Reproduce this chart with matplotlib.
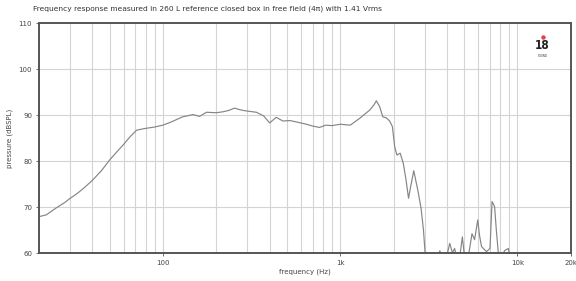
import matplotlib
matplotlib.use('Agg')
import matplotlib.pyplot as plt
from matplotlib.ticker import FixedLocator, NullFormatter
import numpy as np

# frequency response (Hz, dB SPL)
freq = [20, 22, 25, 28, 30, 33, 36, 40, 45, 50, 55, 60, 65, 71, 75, 80, 90, 100,
        110, 124, 129, 148, 161, 176, 200, 218, 235, 254, 275, 294, 337, 370, 400,
        436, 475, 520, 566, 645, 700, 764, 830, 900, 1000, 1140, 1290, 1470, 1550,
        1600, 1670, 1740, 1820, 1900, 1970, 2030, 2090, 2180, 2270, 2350, 2430, 2500,
        2600, 2740, 2860, 2950, 3040, 3200, 3500, 3650, 3800, 4000, 4150, 4300, 4420,
        4600, 4700, 4890, 5000, 5110, 5300, 5540, 5730, 5970, 6100, 6270, 6690, 7000,
        7190, 7430, 7600, 7820, 8100, 8450, 8880, 9180]
spl = [67.9, 68.3, 69.8, 71.0, 71.9, 73.0, 74.2, 75.8, 77.9, 80.2, 82.0, 83.6, 85.2,
       86.7, 86.9, 87.1, 87.4, 87.8, 88.4, 89.3, 89.6, 90.1, 89.7, 90.6, 90.5, 90.7,
       91.0, 91.5, 91.1, 90.9, 90.6, 89.8, 88.3, 89.5, 88.7, 88.8, 88.5, 88.0, 87.6,
       87.3, 87.8, 87.7, 88.0, 87.8, 89.3, 91.1, 92.2, 93.1, 91.8, 89.6, 89.4, 88.7,
       87.5, 83.1, 81.3, 81.7, 79.5, 76.0, 71.9, 74.5, 77.9, 73.7, 69.7, 65.0, 58.0,
       58.0, 58.0, 60.5, 58.0, 59.5, 62.1, 60.0, 61.0, 58.0, 58.5, 63.5, 60.0, 58.0,
       59.5, 64.2, 62.9, 67.2, 64.0, 61.4, 60.3, 61.0, 71.2, 70.1, 65.0, 59.5, 58.5,
       60.5, 61.0, 58.0]

major_x = [100, 1000, 10000, 20000]
major_lbl = ['100', '1k', '10k', '20k']
grid_x = [30, 40, 50, 60, 70, 80, 90, 100, 200, 300, 400, 500, 600, 700, 800, 900,
          1000, 2000, 3000, 4000, 5000, 6000, 7000, 8000, 9000, 10000]
y_ticks = [60, 70, 80, 90, 100, 110]

fig = plt.figure(figsize=(5.76, 2.81), dpi=100)
ax = fig.add_axes([0.0677, 0.0996, 0.9233, 0.8184])
ax.set_xscale('log')
ax.set_xlim(20, 20000)
ax.set_ylim(60, 110)

for g in grid_x:
    ax.axvline(g, color='#d4d4d4', lw=0.8, zorder=0)
for g in y_ticks[1:-1]:
    ax.axhline(g, color='#d4d4d4', lw=0.8, zorder=0)

ax.plot(freq, spl, color='#858585', lw=0.85, zorder=2, clip_on=True)

ax.xaxis.set_major_locator(FixedLocator(major_x))
ax.set_xticklabels(major_lbl)
ax.xaxis.set_minor_locator(FixedLocator([]))
ax.xaxis.set_minor_formatter(NullFormatter())
ax.set_yticks(y_ticks)
ax.tick_params(axis='both', length=2, width=0.6, color='#555555',
               labelsize=5, labelcolor='#444444', pad=3)
for s in ax.spines.values():
    s.set_color('#555555')
    s.set_linewidth(1.4)

ax.set_xlabel('frequency (Hz)', fontsize=5, color='#444444', labelpad=2)
ax.set_ylabel('pressure (dBSPL)', fontsize=5, color='#444444', labelpad=4)
fig.text(0.057, 0.968, 'Frequency response measured in 260 L reference closed box in free field (4\u03c0) with 1.41 Vrms',
         fontsize=5.4, color='#333333', ha='left', va='center')

# small logo in the top right corner
ax.text(0.947, 0.902, '18', transform=ax.transAxes, fontsize=8.5, fontweight='bold',
        color='#222222', ha='center', va='center', fontstretch='condensed',
        family='Liberation Sans Narrow')
ax.plot([0.947], [0.94], marker='o', ms=2.2, color='#e8404a', transform=ax.transAxes)
ax.text(0.947, 0.858, 'SOUND', transform=ax.transAxes, fontsize=2, color='#333333',
        ha='center', va='center')

plt.savefig('out.png', format='png', dpi=100)
plt.close()
